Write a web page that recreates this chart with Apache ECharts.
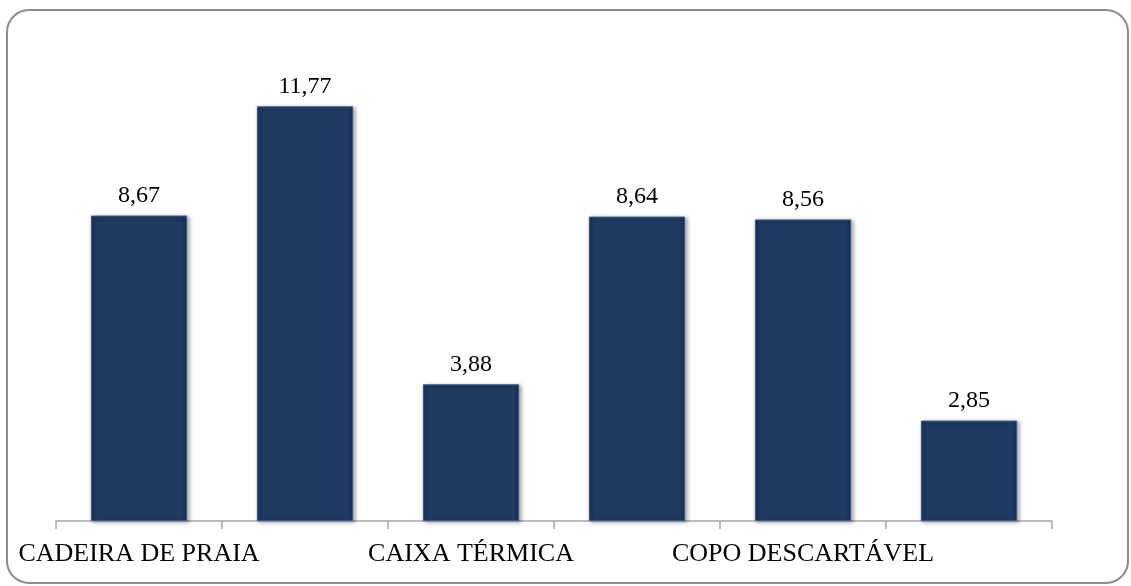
<!DOCTYPE html>
<html>
<head>
<meta charset="utf-8">
<script src="https://cdn.jsdelivr.net/npm/echarts@6/dist/echarts.min.js"></script>
<style>html,body{margin:0;padding:0;background:#fff}#c{width:1131px;height:586px}</style>
</head>
<body>
<div id="c"></div>
<script>
// Categories: only every other label is visible in the reference; hidden ones unknown
const categories = ['CADEIRA DE PRAIA', '', 'CAIXA TÉRMICA', ' ', 'COPO DESCARTÁVEL', '  '];
const values = [8.67, 11.77, 3.88, 8.64, 8.56, 2.85];

const chart = echarts.init(document.getElementById('c'), null, {renderer: 'canvas'});
const fmt = v => v.toFixed(2).replace('.', ',');
chart.setOption({
  backgroundColor: '#ffffff',
  animation: false,
  graphic: [{
    type: 'rect', silent: true, z: -1,
    shape: {x: 7, y: 10, width: 1121, height: 573, r: 22},
    style: {fill: 'none', stroke: '#8c8c8c', lineWidth: 2}
  }],
  grid: {left: 56, right: 79, top: 63, bottom: 65, containLabel: false},
  xAxis: {
    type: 'category',
    data: categories,
    boundaryGap: true,
    axisLine: {show: true, lineStyle: {color: '#a6a6a6', width: 1.5}},
    axisTick: {show: true, length: 8, inside: false, alignWithLabel: false, interval: 0, lineStyle: {color: '#a6a6a6', width: 1.5}},
    axisLabel: {interval: 1, margin: 20, color: '#000', fontFamily: 'Liberation Serif', fontSize: 26, hideOverlap: false}
  },
  yAxis: {
    type: 'value', min: 0, max: 13,
    show: false,
    splitLine: {show: false}
  },
  series: [{
    type: 'bar',
    data: values,
    barCategoryGap: '42%',
    itemStyle: {
      color: {
        type: 'linear', x: 0, y: 0, x2: 1, y2: 0,
        colorStops: [
          {offset: 0, color: '#1b3456'},
          {offset: 0.06, color: '#1f3b62'},
          {offset: 0.94, color: '#1f3b62'},
          {offset: 1, color: '#172d4c'}
        ]
      },
      borderColor: '#3b5b86',
      borderWidth: 1,
      shadowColor: 'rgba(0,0,0,0.35)',
      shadowBlur: 4,
      shadowOffsetX: 2,
      shadowOffsetY: 1
    },
    label: {
      show: true, position: 'top', distance: 8,
      color: '#000', fontFamily: 'Liberation Serif', fontSize: 24,
      formatter: p => fmt(p.value)
    }
  }]
});
</script>
</body>
</html>
